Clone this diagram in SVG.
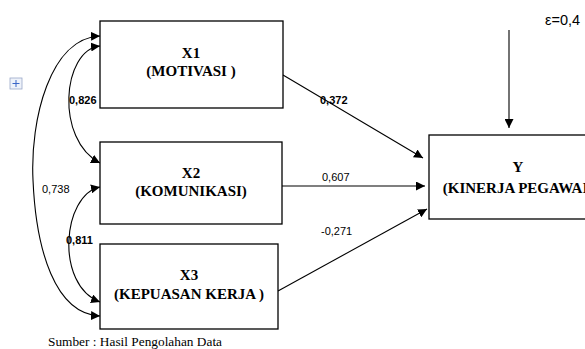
<svg xmlns="http://www.w3.org/2000/svg" width="585" height="349" viewBox="0 0 585 349">
<style>
.box{fill:#fff;stroke:#000;stroke-width:1.3}
.t{font-family:"Liberation Serif","Times New Roman","DejaVu Serif",serif;font-weight:bold;font-size:15px;text-anchor:middle;fill:#000}
.c{fill:none;stroke:#000;stroke-width:1.1}
.lb{font-family:"Liberation Sans",Arial,sans-serif;font-size:11px;fill:#000}
.b{font-weight:bold}
</style>
<defs>
<marker id="ah" viewBox="0 0 10 10" refX="10" refY="5" markerWidth="9" markerHeight="9" markerUnits="userSpaceOnUse" orient="auto-start-reverse">
<path d="M0,0 L10,5 L0,10 z" fill="#000"/>
</marker>
</defs>
<rect width="585" height="349" fill="#fff"/>
<g id="connectors">
<path class="c" d="M100,36 C50,38 30,120 33,180 C36,250 55,314 100,316" marker-start="url(#ah)" marker-end="url(#ah)"/>
<path class="c" d="M100,46 C62,50 55,140 100,163" marker-start="url(#ah)" marker-end="url(#ah)"/>
<path class="c" d="M100,187 C62,195 55,285 100,302" marker-start="url(#ah)" marker-end="url(#ah)"/>
<line class="c" x1="283" y1="75" x2="423" y2="158" marker-end="url(#ah)"/>
<line class="c" x1="282" y1="186" x2="425" y2="186" marker-end="url(#ah)"/>
<line class="c" x1="278" y1="291" x2="427" y2="209" marker-end="url(#ah)"/>
<line class="c" x1="509" y1="30" x2="509" y2="128" marker-end="url(#ah)"/>
<text class="lb b" x="320" y="104">0,372</text>
<text class="lb" x="322" y="181">0,607</text>
<text class="lb" x="321" y="235">-0,271</text>
<text class="lb b" x="69" y="104">0,826</text>
<text class="lb" x="42" y="193">0,738</text>
<text class="lb b" x="66" y="244">0,811</text>
</g>
<g id="x1">
<rect class="box" x="100" y="21" width="183" height="87"/>
<text class="t" x="191" y="58">X1</text>
<text class="t" x="191" y="76">(MOTIVASI )</text>
</g>
<g id="x2">
<rect class="box" x="100" y="142" width="182" height="82"/>
<text class="t" x="191" y="178">X2</text>
<text class="t" x="191" y="196">(KOMUNIKASI)</text>
</g>
<g id="x3">
<rect class="box" x="100" y="244" width="178" height="85"/>
<text class="t" x="189" y="280">X3</text>
<text class="t" x="189" y="299">(KEPUASAN KERJA )</text>
</g>
<g id="y">
<rect class="box" x="429" y="135" width="180" height="84"/>
<text class="t" x="518" y="172">Y</text>
<text class="t" x="518" y="193">(KINERJA PEGAWAI)</text>
</g>
<g id="epsilon">
<text x="545" y="25" font-family="Liberation Sans,Arial,sans-serif" font-size="14.5" fill="#000">ε=0,4</text>
</g>
<g id="handle">
<rect x="10" y="78" width="12" height="11" fill="#eef2fa" stroke="#9aa8c8" stroke-width="0.8"/>
<path d="M16,80 V87 M12.5,83.5 H19.5" stroke="#3a66c8" stroke-width="1"/>
</g>
<text x="48" y="346" font-family="Liberation Serif,Times New Roman,serif" font-size="13" fill="#000" textLength="174" lengthAdjust="spacingAndGlyphs">Sumber : Hasil Pengolahan Data</text>
</svg>
